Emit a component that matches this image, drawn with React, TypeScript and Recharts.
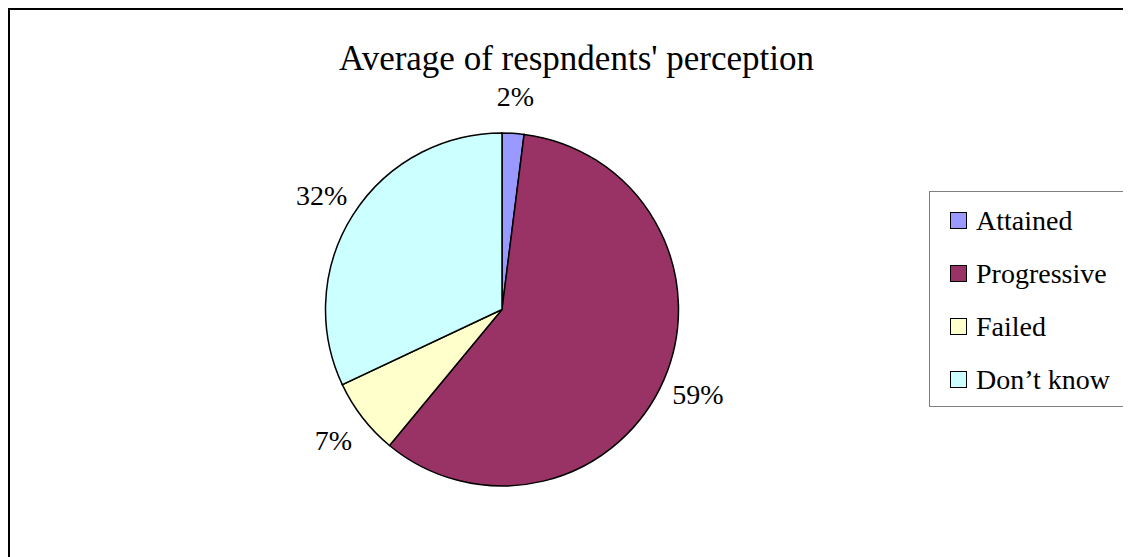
import React from 'react';
import { PieChart, Pie, Cell, Legend } from 'recharts';

const categories = ['Attained', 'Progressive', 'Failed', 'Don\u2019t know'];
const shares = [2, 59, 7, 32];
const colors = ['#9999FF', '#993366', '#FFFFCC', '#CCFFFF'];

const FONT = 'Liberation Serif, Times New Roman, Times, Tinos, DejaVu Serif, serif';
const RAD = Math.PI / 180;

const data = categories.map((name, i) => ({ name, value: shares[i] }));

// percentage text sitting just outside each slice
const renderLabel = (props: any) => {
  const { cx, cy, midAngle, outerRadius, value } = props;
  const r = outerRadius + 37;
  const x = cx + r * Math.cos(-midAngle * RAD);
  const y = cy + r * Math.sin(-midAngle * RAD);
  return (
    <text
      x={x}
      y={y}
      textAnchor="middle"
      dominantBaseline="central"
      style={{ fontFamily: FONT }}
      fontSize={28}
      fill="#000"
    >
      {`${value}%`}
    </text>
  );
};

const LegendBox = () => (
  <div
    style={{
      width: 210,
      height: 216,
      borderTop: '1px solid #808080',
      borderLeft: '1px solid #808080',
      borderBottom: '1px solid #808080',
      background: '#fff',
      fontFamily: FONT,
      fontSize: 28,
      color: '#000',
      boxSizing: 'border-box',
      paddingTop: 2,
    }}
  >
    {categories.map((name, i) => (
      <div
        key={name}
        style={{ display: 'flex', alignItems: 'center', height: 53, paddingLeft: 20 }}
      >
        <span
          style={{
            display: 'inline-block',
            width: 15,
            height: 15,
            background: colors[i],
            border: '1px solid #000',
            marginRight: 9,
          }}
        />
        <span>{name}</span>
      </div>
    ))}
  </div>
);

export default function App() {
  return (
    <div
      style={{
        position: 'relative',
        width: 1123,
        height: 549,
        overflow: 'hidden',
        background: '#fff',
      }}
    >
      <div
        style={{
          position: 'absolute',
          left: 0,
          top: 0,
          width: 1130,
          height: 560,
          borderTop: '2px solid #000',
          borderLeft: '2px solid #000',
          boxSizing: 'border-box',
          pointerEvents: 'none',
          zIndex: 2,
        }}
      />
      <div
        style={{
          position: 'absolute',
          left: 0,
          width: 1137,
          top: 33,
          textAlign: 'center',
          fontFamily: FONT,
          fontSize: 35,
          lineHeight: '35px',
          color: '#000',
        }}
      >
        Average of respndents' perception
      </div>
      <div style={{ position: 'absolute', left: 0, top: 0 }}>
        <PieChart
          width={1123}
          height={549}
          margin={{ top: 0, right: 0, bottom: 0, left: 0 }}
        >
          <Pie
            data={data}
            dataKey="value"
            nameKey="name"
            cx={494}
            cy={301.5}
            outerRadius={176.5}
            startAngle={90}
            endAngle={-270}
            stroke="#000"
            strokeWidth={1.5}
            label={renderLabel}
            labelLine={false}
            isAnimationActive={false}
          >
            {data.map((d, i) => (
              <Cell key={d.name} fill={colors[i]} />
            ))}
          </Pie>
          <Legend
            content={() => <LegendBox />}
            wrapperStyle={{ left: 921, top: 183, width: 210, height: 216 }}
          />
        </PieChart>
      </div>
    </div>
  );
}
